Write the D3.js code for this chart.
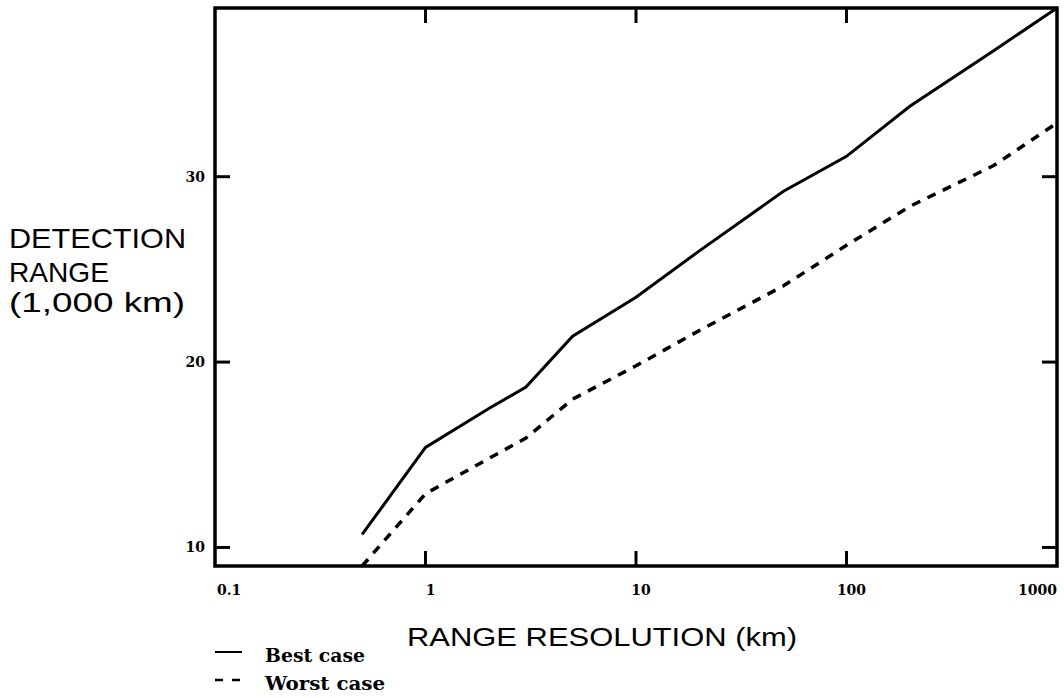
<!DOCTYPE html>
<html lang="en">
<head>
  <meta charset="UTF-8">
  <title>Detection range vs range resolution</title>
  <script src="https://d3js.org/d3.v7.min.js"></script>
  <style>
    body { margin: 0; background: #fff; }
  </style>
</head>
<body>
<script>
  // values
  const resolution = [0.5, 1, 2, 3, 5, 10, 20, 50, 100, 200, 500, 1000];
  const bestCase   = [10.7, 15.4, 17.5, 18.65, 21.4, 23.5, 26.0, 29.2, 31.1, 33.8, 36.8, 39.1];
  const worstCase  = [9.0, 12.9, 14.8, 15.9, 18.0, 19.8, 21.7, 24.1, 26.3, 28.4, 30.6, 32.9];
  const xTicks = [0.1, 1, 10, 100, 1000];
  const xTickLabels = ['0.1', '1', '10', '100', '1000'];
  const yTicks = [10, 20, 30];

  const width = 1064, height = 698;
  const plotL = 215, plotR = 1057, plotT = 8, plotB = 566;

  const svg = d3.select('body').append('svg')
    .attr('width', width)
    .attr('height', height);

  const x = d3.scaleLog().domain([0.1, 1000]).range([plotL, plotR]);
  const y = d3.scaleLinear().domain([9.0, 39.1]).range([plotB, plotT]);

  // data lines
  const line = d3.line()
    .x(d => x(d[0]))
    .y(d => y(d[1]));

  svg.append('path')
    .datum(resolution.map((r, i) => [r, bestCase[i]]))
    .attr('d', line)
    .attr('fill', 'none')
    .attr('stroke', '#000')
    .attr('stroke-width', 3);

  svg.append('path')
    .datum(resolution.map((r, i) => [r, worstCase[i]]))
    .attr('d', line)
    .attr('fill', 'none')
    .attr('stroke', '#000')
    .attr('stroke-width', 3.5)
    .attr('stroke-dasharray', '9,8');

  // ticks pointing inward on all four sides
  const tickLen = 15;
  const frame = svg.append('g').attr('stroke', '#000').attr('stroke-width', 3);

  xTicks.slice(1, -1).forEach(t => {
    frame.append('line').attr('x1', x(t)).attr('x2', x(t)).attr('y1', plotB).attr('y2', plotB - tickLen);
    frame.append('line').attr('x1', x(t)).attr('x2', x(t)).attr('y1', plotT).attr('y2', plotT + tickLen);
  });
  yTicks.forEach(t => {
    frame.append('line').attr('x1', plotL).attr('x2', plotL + tickLen).attr('y1', y(t)).attr('y2', y(t));
    frame.append('line').attr('x1', plotR).attr('x2', plotR - tickLen).attr('y1', y(t)).attr('y2', y(t));
  });

  svg.append('rect')
    .attr('x', plotL).attr('y', plotT)
    .attr('width', plotR - plotL).attr('height', plotB - plotT)
    .attr('fill', 'none')
    .attr('stroke', '#000')
    .attr('stroke-width', 3.5);

  // tick labels
  const tickFont = '"DejaVu Serif", serif';
  svg.append('g').selectAll('text')
    .data(xTicks)
    .join('text')
    .attr('x', (d, i) => i === 0 ? plotL + 2 : (i === xTicks.length - 1 ? plotR : x(d) + 5))
    .attr('y', 595)
    .attr('text-anchor', (d, i) => i === 0 ? 'start' : (i === xTicks.length - 1 ? 'end' : 'middle'))
    .attr('font-family', tickFont)
    .attr('font-weight', 'bold')
    .attr('font-size', 14)
    .text((d, i) => xTickLabels[i]);

  svg.append('g').selectAll('text')
    .data(yTicks)
    .join('text')
    .attr('x', 205)
    .attr('y', d => y(d) + 5)
    .attr('text-anchor', 'end')
    .attr('font-family', tickFont)
    .attr('font-weight', 'bold')
    .attr('font-size', 14)
    .text(d => d);

  // axis titles
  const titleFont = '"Liberation Sans", Arial, sans-serif';
  const yTitle = [['DETECTION', 248, 177], ['RANGE', 282, 100], ['(1,000 km)', 312, 176]];
  yTitle.forEach(([t, yy, w]) => {
    svg.append('text')
      .attr('x', 9).attr('y', yy)
      .attr('font-family', titleFont)
      .attr('font-size', 28)
      .attr('textLength', w)
      .attr('lengthAdjust', 'spacingAndGlyphs')
      .text(t);
  });

  svg.append('text')
    .attr('x', 407).attr('y', 646)
    .attr('font-family', titleFont)
    .attr('font-size', 26)
    .attr('textLength', 390)
    .attr('lengthAdjust', 'spacingAndGlyphs')
    .text('RANGE RESOLUTION (km)');

  // legend
  const legend = svg.append('g');
  legend.append('line')
    .attr('x1', 215).attr('x2', 242).attr('y1', 652).attr('y2', 652)
    .attr('stroke', '#000').attr('stroke-width', 2);
  legend.append('line')
    .attr('x1', 215).attr('x2', 242).attr('y1', 680).attr('y2', 680)
    .attr('stroke', '#000').attr('stroke-width', 2.5)
    .attr('stroke-dasharray', '8,9');
  legend.append('text')
    .attr('x', 265).attr('y', 662)
    .attr('font-family', tickFont).attr('font-weight', 'bold').attr('font-size', 18)
    .attr('textLength', 100).attr('lengthAdjust', 'spacingAndGlyphs')
    .text('Best case');
  legend.append('text')
    .attr('x', 265).attr('y', 690)
    .attr('font-family', tickFont).attr('font-weight', 'bold').attr('font-size', 18)
    .attr('textLength', 120).attr('lengthAdjust', 'spacingAndGlyphs')
    .text('Worst case');
</script>
</body>
</html>
